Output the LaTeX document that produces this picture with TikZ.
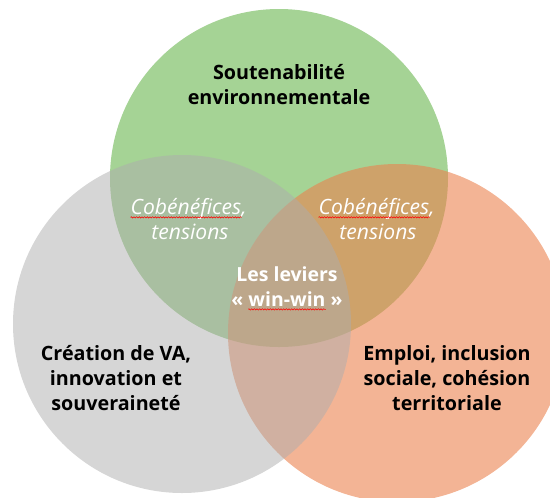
\documentclass[tikz,border=0pt]{standalone}
\usepackage{fontspec}
\setmainfont{Open Sans}
\usetikzlibrary{decorations.pathmorphing}
\definecolor{envgreen}{RGB}{105,181,78}
\definecolor{socorange}{RGB}{235,130,78}
\definecolor{vagray}{RGB}{173,173,173}
\tikzset{
  pillar/.style={circle,minimum size=253.5pt,inner sep=0pt,fill opacity=0.6},
  title/.style={font=\fontsize{14.8}{18.75}\selectfont\bfseries,align=center,text=black},
  overlap/.style={font=\fontsize{15.8}{18.75}\selectfont\itshape,text=white,inner sep=0pt,anchor=base},
  core/.style={font=\fontsize{14.6}{18.75}\selectfont\bfseries,text=white,inner sep=0pt,anchor=base},
  spell/.style={red,line width=0.4pt,decorate,decoration={snake,amplitude=0.5pt,segment length=2pt}},
}

\begin{document}
\begin{tikzpicture}[x=0.75pt,y=-0.75pt]
\useasboundingbox (0,0) rectangle (550,497);
\clip (0,0) rectangle (550,497);
% the three pillars
\node [pillar,fill=envgreen] (env) at (279,178) {};
\node [pillar,fill=socorange] (soc) at (397,333) {};
\node [pillar,fill=vagray,fill opacity=0.5] (va) at (182,324) {};
% labels
\node [title] (envlbl) at (279,85) {Soutenabilité\\environnementale};
\node [title] (valbl) at (116,378) {Création de VA,\\innovation et\\souveraineté};
\node [title] (soclbl) at (447,378) {Emploi, inclusion\\sociale, cohésion\\territoriale};
% overlaps
\node [overlap] (cobl) at (186,214) {Cobénéfices\rlap{,}};
\node [overlap] (tensl) at (190,239) {tensions};
\node [overlap] (cobr) at (374,214) {Cobénéfices\rlap{,}};
\node [overlap] (tensr) at (378,239) {tensions};
\node [core] (lev) at (287,281) {Les leviers};
\node [core] (win) at (287,306) {\llap{« }win-win\rlap{ »}};
% spell-check marks
\draw [spell] ([yshift=-2.5pt]cobl.base west) -- ([yshift=-2.5pt]cobl.base east);
\draw [spell] ([yshift=-2.5pt]cobr.base west) -- ([yshift=-2.5pt]cobr.base east);
\draw [spell] ([yshift=-2.5pt]win.base west) -- ([yshift=-2.5pt]win.base east);
\end{tikzpicture}
\end{document}
